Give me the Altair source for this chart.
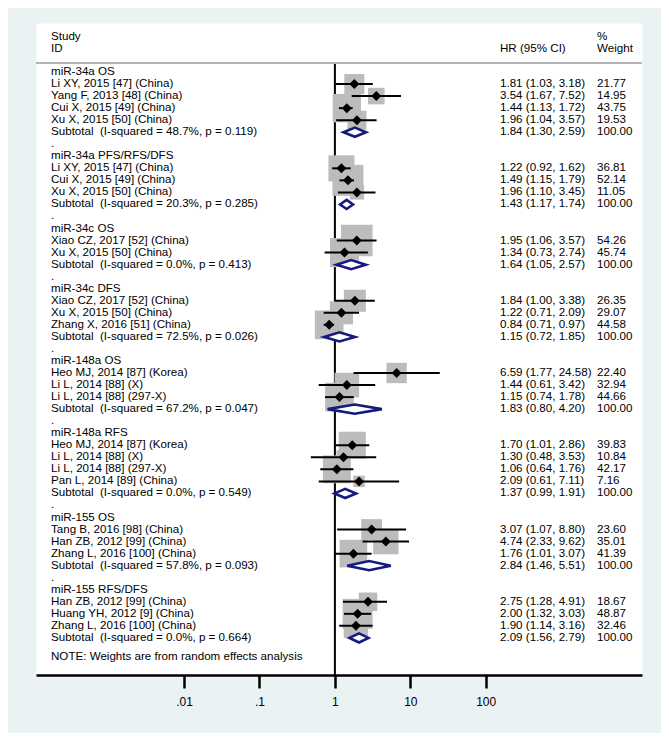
import altair as alt
import pandas as pd

# ---------------- data ----------------
group_names = ["miR-34a OS", "miR-34a PFS/RFS/DFS", "miR-34c OS", "miR-34c DFS",
               "miR-148a OS", "miR-148a RFS", "miR-155 OS", "miR-155 RFS/DFS"]

study_group = [0, 0, 0, 0,
               1, 1, 1,
               2, 2,
               3, 3, 3,
               4, 4, 4,
               5, 5, 5, 5,
               6, 6, 6,
               7, 7, 7]
study_labels = [
    "Li XY, 2015 [47] (China)", "Yang F, 2013 [48] (China)", "Cui X, 2015 [49] (China)", "Xu X, 2015 [50] (China)",
    "Li XY, 2015 [47] (China)", "Cui X, 2015 [49] (China)", "Xu X, 2015 [50] (China)",
    "Xiao CZ, 2017 [52] (China)", "Xu X, 2015 [50] (China)",
    "Xiao CZ, 2017 [52] (China)", "Xu X, 2015 [50] (China)", "Zhang X, 2016 [51] (China)",
    "Heo MJ, 2014 [87] (Korea)", "Li L, 2014 [88] (X)", "Li L, 2014 [88] (297-X)",
    "Heo MJ, 2014 [87] (Korea)", "Li L, 2014 [88] (X)", "Li L, 2014 [88] (297-X)", "Pan L, 2014 [89] (China)",
    "Tang B, 2016 [98] (China)", "Han ZB, 2012 [99] (China)", "Zhang L, 2016 [100] (China)",
    "Han ZB, 2012 [99] (China)", "Huang YH, 2012 [9] (China)", "Zhang L, 2016 [100] (China)",
]
study_hr = [1.81, 3.54, 1.44, 1.96,
            1.22, 1.49, 1.96,
            1.95, 1.34,
            1.84, 1.22, 0.84,
            6.59, 1.44, 1.15,
            1.70, 1.30, 1.06, 2.09,
            3.07, 4.74, 1.76,
            2.75, 2.00, 1.90]
study_lo = [1.03, 1.67, 1.13, 1.04,
            0.92, 1.15, 1.10,
            1.06, 0.73,
            1.00, 0.71, 0.71,
            1.77, 0.61, 0.74,
            1.01, 0.48, 0.64, 0.61,
            1.07, 2.33, 1.01,
            1.28, 1.32, 1.14]
study_hi = [3.18, 7.52, 1.72, 3.57,
            1.62, 1.79, 3.45,
            3.57, 2.74,
            3.38, 2.09, 0.97,
            24.58, 3.42, 1.78,
            2.86, 3.53, 1.76, 7.11,
            8.80, 9.62, 3.07,
            4.91, 3.03, 3.16]
study_wt = [21.77, 14.95, 43.75, 19.53,
            36.81, 52.14, 11.05,
            54.26, 45.74,
            26.35, 29.07, 44.58,
            22.40, 32.94, 44.66,
            39.83, 10.84, 42.17, 7.16,
            23.60, 35.01, 41.39,
            18.67, 48.87, 32.46]

sub_i2 = ["48.7%", "20.3%", "0.0%", "72.5%", "67.2%", "0.0%", "57.8%", "0.0%"]
sub_p = ["0.119", "0.285", "0.413", "0.026", "0.047", "0.549", "0.093", "0.664"]
sub_hr = [1.84, 1.43, 1.64, 1.15, 1.83, 1.37, 2.84, 2.09]
sub_lo = [1.30, 1.17, 1.05, 0.72, 0.80, 0.99, 1.46, 1.56]
sub_hi = [2.59, 1.74, 2.57, 1.85, 4.20, 1.91, 5.51, 2.79]

tick_values = [0.01, 0.1, 1, 10, 100]
tick_labels = [".01", ".1", "1", "10", "100"]

note_text = "NOTE: Weights are from random effects analysis"

# ---------------- build tables ----------------
text_rows = []
hr_rows = []
studies = []
diam = []
r = 0
for g, name in enumerate(group_names):
    text_rows.append({"row": r, "label": name})
    r += 1
    for i, sg in enumerate(study_group):
        if sg != g:
            continue
        text_rows.append({"row": r, "label": study_labels[i]})
        hr_rows.append({"row": r,
                        "hrtxt": f"{study_hr[i]:.2f} ({study_lo[i]:.2f}, {study_hi[i]:.2f})",
                        "wttxt": f"{study_wt[i]:.2f}"})
        studies.append({"row": r, "hr": study_hr[i], "lo": study_lo[i],
                        "hi": study_hi[i], "wt": study_wt[i]})
        r += 1
    text_rows.append({"row": r,
                      "label": f"Subtotal\u00a0 (I-squared = {sub_i2[g]}, p = {sub_p[g]})"})
    hr_rows.append({"row": r,
                    "hrtxt": f"{sub_hr[g]:.2f} ({sub_lo[g]:.2f}, {sub_hi[g]:.2f})",
                    "wttxt": "100.00"})
    h = 0.38
    diam.append({"g": g, "x": sub_lo[g], "y": r, "y2": r})
    diam.append({"g": g, "x": sub_hr[g], "y": r - h, "y2": r + h})
    diam.append({"g": g, "x": sub_hi[g], "y": r, "y2": r})
    r += 1
    if g < len(group_names) - 1:
        text_rows.append({"row": r, "label": "."})
        r += 1

note_row = r + 0.6
text_rows.append({"row": note_row, "label": note_text})

header_rows = pd.DataFrame([
    {"row": -2.91, "label": "Study", "col": "left"},
    {"row": -1.91, "label": "ID", "col": "left"},
    {"row": -1.91, "label": "HR (95% CI)", "col": "hr"},
    {"row": -2.91, "label": "%", "col": "wt"},
    {"row": -1.91, "label": "Weight", "col": "wt"},
])

df_text = pd.DataFrame(text_rows)
df_hr = pd.DataFrame(hr_rows)
df_st = pd.DataFrame(studies)
df_diam = pd.DataFrame(diam)

# ---------------- scales ----------------
Y_TOP, Y_BOT = -4.07, 50.08
yscale = alt.Scale(domain=[Y_TOP, Y_BOT], reverse=True, nice=False, zero=False)
xscale = alt.Scale(type="log", domain=[0.0001086, 11830], nice=False)
FONT = "Liberation Sans"
FS = 11.6
W, H = 606, 652

label_expr = " : ".join(
    [f"datum.value == {v} ? '{l}'" for v, l in zip(tick_values, tick_labels)]
) + " : datum.label"

xaxis = alt.Axis(values=tick_values, labelExpr=label_expr, grid=False,
                 domainColor="black", domainWidth=2.5, tickColor="black",
                 tickWidth=2.5, tickSize=13, labelFont=FONT, labelFontSize=12,
                 labelColor="black", labelPadding=8, title=None)

base_line = alt.Chart(pd.DataFrame({"x": [1.0], "y": [-0.75], "y2": [Y_BOT]}))

ref_line = base_line.mark_rule(color="black", strokeWidth=2).encode(
    x=alt.X("x:Q", scale=xscale, axis=xaxis),
    y=alt.Y("y:Q", scale=yscale, axis=None),
    y2="y2:Q",
)

header_line = base_line.mark_rule(color="#B4B4B4", strokeWidth=2).encode(
    x=alt.value(0), x2=alt.value(W),
    y=alt.Y("y:Q", scale=yscale, axis=None),
)

boxes = alt.Chart(df_st).mark_square(color="#BCBCBC", opacity=1).encode(
    x=alt.X("hr:Q", scale=xscale),
    y=alt.Y("row:Q", scale=yscale, axis=None),
    size=alt.Size("wt:Q", scale=alt.Scale(type="linear", domain=[0, 100], range=[0, 1840]),
                  legend=None),
)

ci = alt.Chart(df_st).mark_rule(color="black", strokeWidth=2).encode(
    x=alt.X("lo:Q", scale=xscale),
    x2="hi:Q",
    y=alt.Y("row:Q", scale=yscale, axis=None),
)

pts = alt.Chart(df_st).mark_point(shape="diamond", filled=True, color="black",
                                   size=100, opacity=1).encode(
    x=alt.X("hr:Q", scale=xscale),
    y=alt.Y("row:Q", scale=yscale, axis=None),
)

diamonds = alt.Chart(df_diam).mark_area(fill="white", stroke="#161A7E",
                                        strokeWidth=2.6, fillOpacity=1,
                                        orient="vertical").encode(
    x=alt.X("x:Q", scale=xscale),
    y=alt.Y("y:Q", scale=yscale, axis=None),
    y2="y2:Q",
    detail="g:N",
)

def txt(df, field, xpos):
    return alt.Chart(df).mark_text(align="left", baseline="middle", font=FONT,
                                   fontSize=FS, color="black").encode(
        x=alt.value(xpos),
        y=alt.Y("row:Q", scale=yscale, axis=None),
        text=f"{field}:N",
    )

left_text = txt(df_text, "label", 15)
hr_text = txt(df_hr, "hrtxt", 464)
wt_text = txt(df_hr, "wttxt", 561)
hdr_left = txt(header_rows[header_rows.col == "left"], "label", 15)
hdr_hr = txt(header_rows[header_rows.col == "hr"], "label", 464)
hdr_wt = txt(header_rows[header_rows.col == "wt"], "label", 561)

chart = alt.layer(
    ref_line, header_line, boxes, ci, pts, diamonds,
    left_text, hr_text, wt_text, hdr_left, hdr_hr, hdr_wt,
).properties(
    width=W, height=H,
    autosize=alt.AutoSizeParams(type="none"),
    padding={"left": 28, "top": 15, "right": 19, "bottom": 58},
).configure(
    background="#EAF2F3",
).configure_view(
    fill="white", stroke="transparent",
)

chart.save("out.html", embed_options={"renderer": "svg", "actions": False})
